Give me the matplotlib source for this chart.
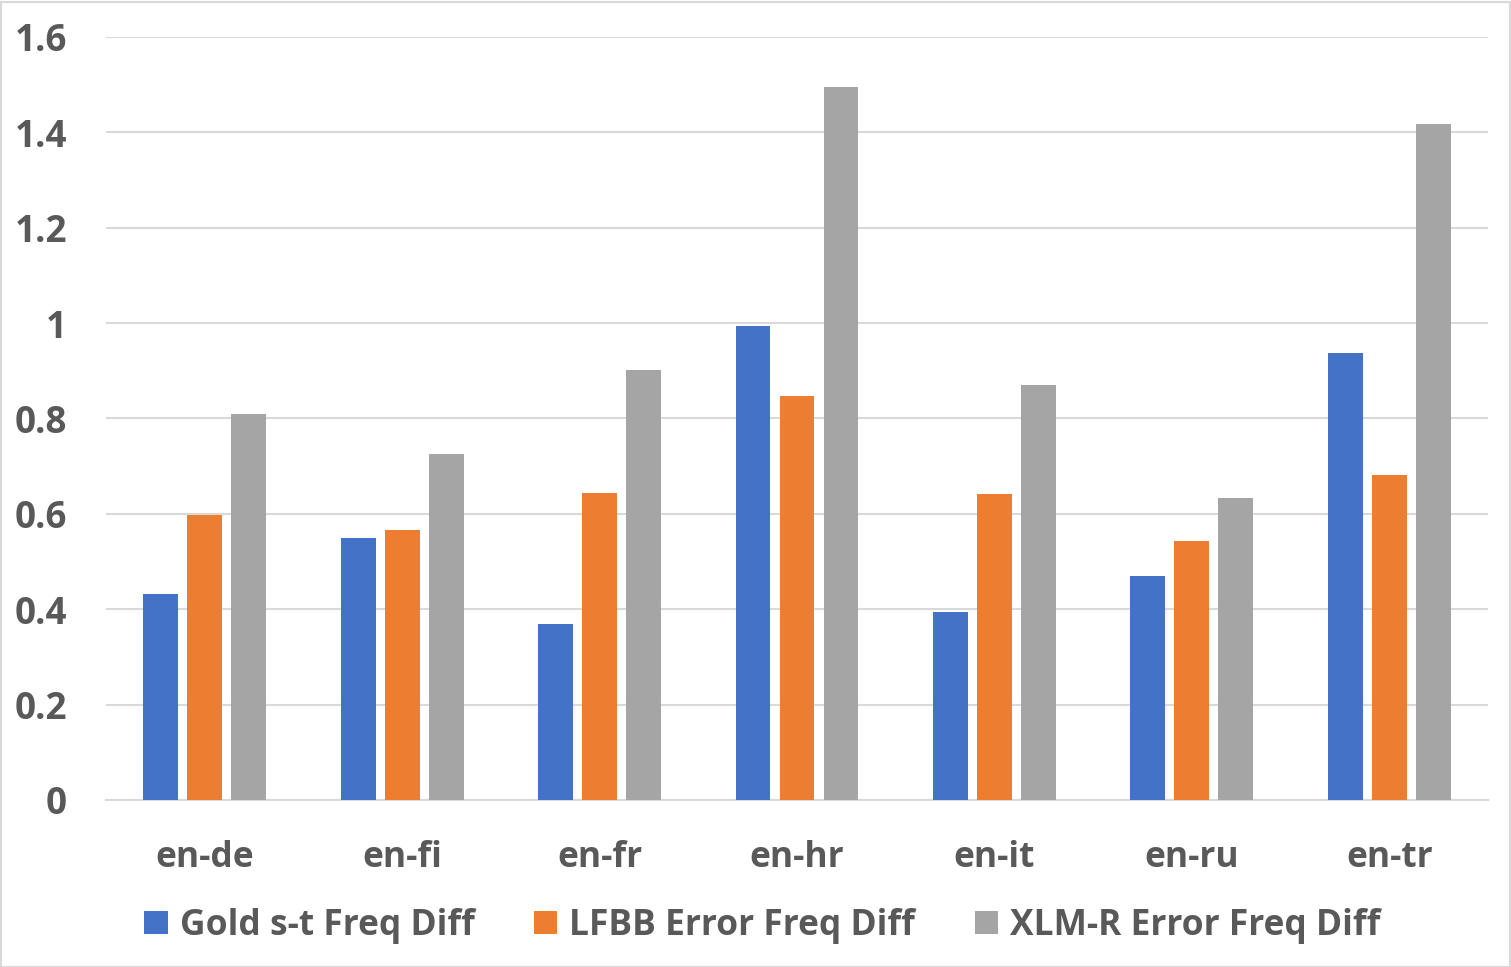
import matplotlib
matplotlib.use("Agg")
import matplotlib.pyplot as plt
import numpy as np
from matplotlib.patches import Rectangle

categories = ["en-de", "en-fi", "en-fr", "en-hr", "en-it", "en-ru", "en-tr"]
series_names = ["Gold s-t Freq Diff", "LFBB Error Freq Diff", "XLM-R Error Freq Diff"]
gold = [0.432, 0.549, 0.369, 0.994, 0.394, 0.470, 0.937]
lfbb = [0.598, 0.566, 0.644, 0.847, 0.642, 0.543, 0.681]
xlmr = [0.809, 0.726, 0.902, 1.495, 0.870, 0.633, 1.417]
yticks = [0, 0.2, 0.4, 0.6, 0.8, 1.0, 1.2, 1.4, 1.6]
ytick_labels = ["0", "0.2", "0.4", "0.6", "0.8", "1", "1.2", "1.4", "1.6"]
colors = ["#4472C4", "#ED7D31", "#A5A5A5"]
text_color = "#595959"
grid_color = "#D9D9D9"

plt.rcParams['font.family'] = ['Open Sans', 'DejaVu Sans']
plt.rcParams['font.weight'] = 'bold'

W, H = 1511, 967
fig = plt.figure(figsize=(W / 100, H / 100), dpi=100)
fig.patches.append(Rectangle((0.5 / W, 0.5 / H), 1 - 2 / W, 1 - 2 / H, transform=fig.transFigure,
                             fill=False, edgecolor=grid_color, linewidth=1.5))

ax = fig.add_axes([106 / W, (H - 800) / H, (1488 - 106) / W, (800 - 37) / H])
x = np.arange(len(categories))
width = 0.177
offset = 0.223
for i, (vals, name) in enumerate(zip([gold, lfbb, xlmr], series_names)):
    ax.bar(x + (i - 1) * offset, vals, width, color=colors[i], label=name, zorder=3)

ax.set_xlim(-0.5, len(categories) - 0.5)
ax.set_ylim(0, 1.6)
ax.set_yticks(yticks)
ax.set_yticklabels(ytick_labels)
ax.set_xticks(x)
ax.set_xticklabels(categories)
ax.yaxis.grid(True, color=grid_color, linewidth=1.5, zorder=0)
for s in ["top", "right", "left"]:
    ax.spines[s].set_visible(False)
ax.spines["bottom"].set_color(grid_color)
ax.spines["bottom"].set_linewidth(1.5)
ax.tick_params(axis="x", length=0, labelsize=25.5, labelcolor=text_color, pad=29)
ax.tick_params(axis="y", length=0, labelsize=26.5, labelcolor=text_color, pad=28)

handles, labels = ax.get_legend_handles_labels()
leg = fig.legend(handles, labels, loc="center", bbox_to_anchor=(762.5 / W, (H - 926) / H),
                 ncol=3, frameon=False, fontsize=25.5, handlelength=0.65, handleheight=0.65,
                 handletextpad=0.34, columnspacing=1.69, borderaxespad=0, borderpad=0)
for t in leg.get_texts():
    t.set_color(text_color)

fig.savefig("out.png", dpi=100)
